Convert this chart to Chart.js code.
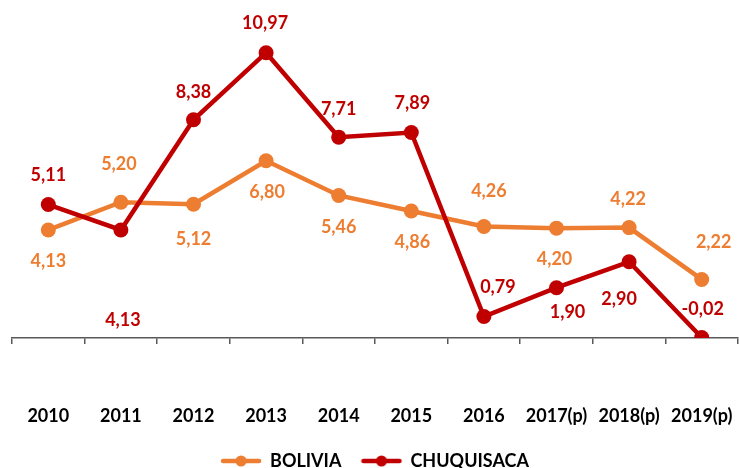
<!DOCTYPE html>
<html>
<head>
<meta charset="utf-8">
<script src="https://cdn.jsdelivr.net/npm/chart.js@4.4.1/dist/chart.umd.min.js"></script>
<style>
  html, body { margin: 0; padding: 0; background: #ffffff; }
  #wrap { width: 739px; height: 468px; position: relative; }
</style>
</head>
<body>
<div id="wrap"><canvas id="c" width="739" height="468"></canvas></div>
<script>
// ---- data ----
const categories = ['2010', '2011', '2012', '2013', '2014', '2015', '2016', '2017(p)', '2018(p)', '2019(p)'];
const bolivia    = [4.13, 5.20, 5.12, 6.80, 5.46, 4.86, 4.26, 4.20, 4.22, 2.22];
const chuquisaca = [5.11, 4.13, 8.38, 10.97, 7.71, 7.89, 0.79, 1.90, 2.90, -0.02];
const seriesNames = ['BOLIVIA', 'CHUQUISACA'];

// ---- label placement (pixel offsets from each point) ----
const boliviaLabelDx    = [0, -2, 0, 1, 0, 1, 5, -2, -1, 12];
const boliviaLabelDy    = [31, -38, 35, 31, 32, 31, -35, 31, -28, -37];
const chuquisacaLabelDx = [0, 2, 0, -1, 0, 1, 14, 11, -10, 1];
const chuquisacaLabelDy = [-29, 90, -28, -30, -28, -29, -29, 24, 37, -28];

// ---- styles ----
const ORANGE = '#ED7D31';
const RED = '#C00000';
const FONT = 'Lato, "Open Sans", sans-serif';

function legendMarker(color) {
  const cv = document.createElement('canvas');
  cv.width = 42; cv.height = 14;
  const g = cv.getContext('2d');
  g.strokeStyle = color; g.lineWidth = 4.5; g.lineCap = 'round';
  g.beginPath(); g.moveTo(3, 7); g.lineTo(39, 7); g.stroke();
  g.fillStyle = color;
  g.beginPath(); g.arc(21, 7, 5.5, 0, Math.PI * 2); g.fill();
  return cv;
}

const labelPlugin = {
  id: 'valueLabels',
  afterDatasetsDraw(chart) {
    const ctx = chart.ctx;
    const offsets = [[boliviaLabelDx, boliviaLabelDy], [chuquisacaLabelDx, chuquisacaLabelDy]];
    ctx.save();
    ctx.font = 'bold 18px ' + FONT;
    ctx.textAlign = 'center';
    ctx.textBaseline = 'middle';
    chart.data.datasets.forEach((ds, di) => {
      const meta = chart.getDatasetMeta(di);
      ctx.fillStyle = ds.borderColor;
      meta.data.forEach((pt, i) => {
        const txt = ds.data[i].toFixed(2).replace('.', ',');
        ctx.fillText(txt, pt.x + offsets[di][0][i], pt.y + offsets[di][1][i]);
      });
    });
    ctx.restore();
  }
};

new Chart(document.getElementById('c'), {
  type: 'line',
  data: {
    labels: categories,
    datasets: [
      {
        label: seriesNames[0], data: bolivia, order: 2,
        borderColor: ORANGE, backgroundColor: ORANGE,
        borderWidth: 4.5, pointRadius: 7.5, pointHoverRadius: 7.5,
        pointBackgroundColor: ORANGE, pointBorderWidth: 0,
        pointStyle: 'circle', tension: 0
      },
      {
        label: seriesNames[1], data: chuquisaca, order: 1,
        borderColor: RED, backgroundColor: RED,
        borderWidth: 4.5, pointRadius: 7.5, pointHoverRadius: 7.5,
        pointBackgroundColor: RED, pointBorderWidth: 0,
        pointStyle: 'circle', tension: 0
      }
    ]
  },
  options: {
    responsive: false,
    animation: false,
    devicePixelRatio: 1,
    layout: { autoPadding: false, padding: { top: 26, left: 12, right: 1, bottom: -12 } },
    plugins: {
      legend: {
        position: 'bottom',
        sort: (a, b) => a.datasetIndex - b.datasetIndex,
        labels: {
          usePointStyle: true,
          pointStyleWidth: 40,
          color: '#000000',
          font: { family: FONT, size: 18, weight: 'bold' },
          padding: 20,
          generateLabels(chart) {
            return chart.data.datasets.map((ds, i) => ({
              text: ds.label,
              fillStyle: ds.borderColor,
              strokeStyle: ds.borderColor,
              fontColor: '#000000',
              lineWidth: 0,
              pointStyle: legendMarker(ds.borderColor),
              datasetIndex: i,
              hidden: false
            }));
          }
        }
      },
      tooltip: { enabled: false }
    },
    scales: {
      x: {
        offset: true,
        grid: {
          offset: true, drawOnChartArea: false, drawTicks: true,
          tickLength: 6, color: '#595959', lineWidth: 1.5
        },
        border: { display: true, color: '#595959', width: 1.5 },
        ticks: {
          color: '#000000', padding: 61, maxRotation: 0, autoSkip: false,
          font: { family: FONT, size: 18, weight: 'bold' }
        },
        afterFit(scale) {
          scale.height = 94;
          scale.paddingLeft = 0;
          scale.paddingRight = 0;
        }
      },
      y: {
        display: false,
        min: -0.04,
        max: 12
      }
    }
  },
  plugins: [labelPlugin]
});
</script>
</body>
</html>
